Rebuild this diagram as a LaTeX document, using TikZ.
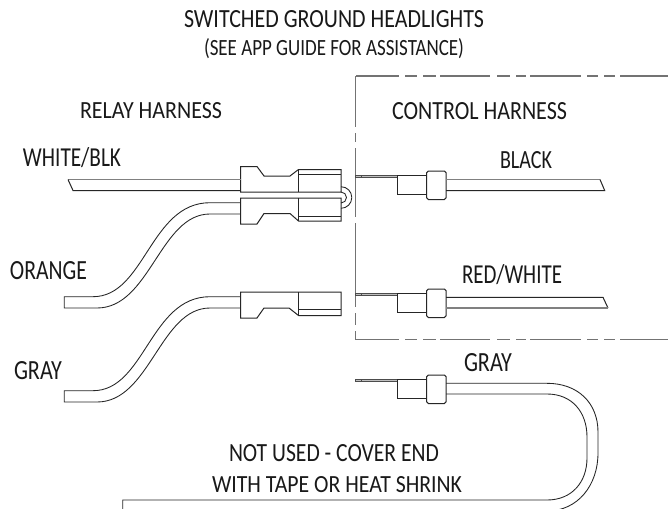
\documentclass[tikz,border=0pt]{standalone}
\usepackage{fontspec}
\usepackage{graphicx}
\setmainfont{Carlito}
\newdimen\lblw
\newdimen\lblh
\newcommand{\lbl}[6]{\lblw=0.75pt \multiply\lblw by #4 \lblh=0.75pt \multiply\lblh by #5 \node[lab,anchor=base west] (#1) at (#2,#3) {\resizebox{\lblw}{\lblh}{#6}};}
\tikzset{
  lab/.style={inner sep=0pt,outer sep=0pt,text=black!90,font=\fontsize{18}{20}\selectfont},
  ln/.style={line width=0.75pt,black!85,line join=miter},
  gr/.style={line width=1.1pt,black!50},
  thin wire/.style={line width=0.65pt,black!85},
  bord/.style={line width=0.9pt,black!55},
}
\begin{document}
\begin{tikzpicture}[x=0.75pt,y=-0.75pt]
\useasboundingbox (0,0) rectangle (668,508);
\fill[white] (0,0) rectangle (668,508);
% labels
\lbl{t1}{184}{27}{300}{17}{SWITCHED GROUND HEADLIGHTS}
\lbl{t2}{204}{55}{260}{17}{(SEE APP GUIDE FOR ASSISTANCE)}
\lbl{t3}{80}{118}{142}{16}{RELAY HARNESS}
\lbl{t4}{392}{119}{175}{17}{CONTROL HARNESS}
\lbl{t5}{23}{166}{98}{19}{WHITE/BLK}
\lbl{t6}{10}{279}{77}{18}{ORANGE}
\lbl{t7}{14}{379}{48}{18}{GRAY}
\lbl{t8}{500}{168}{52}{17}{BLACK}
\lbl{t9}{462}{283}{100}{19}{RED/WHITE}
\lbl{t10}{464}{371}{48}{18}{GRAY}
\lbl{t11}{229}{461}{210}{17}{NOT USED - COVER END}
\lbl{t12}{212}{492}{250}{16}{WITH TAPE OR HEAT SHRINK}
% dashed boundary
\draw[bord] (356,76) -- (399,76) (405,76) -- (417,76) (423,76) -- (436,76) (440,76) -- (490,76) (497,76) -- (510,76) (516,76) -- (526,76) (530,76) -- (581,76) (587,76) -- (598,76) (604,76) -- (615,76) (620,76) -- (668,76);
\draw[bord] (356,339.7) -- (399,339.7) (405,339.7) -- (417,339.7) (423,339.7) -- (436,339.7) (440,339.7) -- (490,339.7) (497,339.7) -- (510,339.7) (516,339.7) -- (526,339.7) (530,339.7) -- (581,339.7) (587,339.7) -- (598,339.7) (604,339.7) -- (615,339.7) (620,339.7) -- (668,339.7);
\draw[bord] (355.7,76) -- (355.7,127) (355.7,133) -- (355.7,142) (355.7,148) -- (355.7,217) (355.7,223) -- (355.7,307) (355.7,313) -- (355.7,325) (355.7,331) -- (355.7,340);
% top connector
\draw[ln] (240.5,166.5) -- (257,166.5) -- (264,176) -- (290,176) -- (298.5,169.5) -- (341,169.5) -- (341,192) -- (240.5,192) -- cycle;
\draw[ln] (298.5,169.5) -- (298.5,192) (298.5,174.5) -- (341,174.5);
% second connector
\draw[ln] (240.5,198) -- (341,198) -- (341,221) -- (298.5,221) -- (290,213.5) -- (264,213.5) -- (257,224) -- (240.5,224) -- cycle;
\draw[ln] (298.5,198) -- (298.5,221) (298.5,216) -- (341,216);
% loop
\draw[thin wire] (341,186.7) arc[start angle=-90,end angle=90,radius=10.8];
\draw[thin wire] (341,192) arc[start angle=-90,end angle=90,radius=5.5];
% third connector
\draw[ln] (240.5,292) -- (341,292) -- (341,315.5) -- (298.5,315.5) -- (289,308) -- (264,308) -- (257,318) -- (240.5,318) -- cycle;
\draw[ln] (298.5,292) -- (298.5,315.5) (298.5,309.5) -- (341,309.5);
% white/blk wire
\draw[gr] (68,179.5) -- (240.5,179.5);
\draw[ln] (68,179.5) -- (73,190.5) -- (240.5,190.5);
% orange and gray wires
\foreach \d in {0,94}{
  \draw[thin wire] (240.5,202.7+\d) -- (210,202.7+\d) .. controls (150,202.7+\d) and (145,296.7+\d) .. (93,296.7+\d) -- (64.3,296.7+\d) -- (64.3,308+\d) -- (97,308+\d) .. controls (150,308+\d) and (160,214+\d) .. (210,214+\d) -- (240.5,214+\d);
}
% terminals
\foreach \d in {0,118,204}{
  \draw[line width=0.5pt,black!70,fill=black!25] (355.7,175+\d) rectangle (397,177.5+\d);
  \draw[line width=0.5pt,black!70] (361.7,175+\d) -- (361.7,177.5+\d);
  \draw[ln] (426.7,175+\d) -- (397,175+\d) -- (397,194+\d) -- (426.7,194+\d);
  \draw[ln,rounded corners=1.2pt] (426.7,171+\d) rectangle (446,199.5+\d);
}
% black wire
\draw[gr] (446,179.5) -- (600,179.5);
\draw[ln] (600,179.5) -- (604.7,190.5) -- (446,190.5);
% red/white wire
\draw[ln] (446,297.3) -- (603,297.3) -- (608,308);
\draw[gr] (446,308) -- (608,308);
% gray unused wire
\begin{scope}
\clip (0,0) rectangle (668,508);
\draw[thin wire] (446,383.3) -- (547,383.3) .. controls (578,383.3) and (598,403) .. (598,432) -- (598,453) .. controls (598,485) and (578,511) .. (547,511);
\draw[thin wire] (446,394) -- (547,394) .. controls (572,394) and (587,412) .. (587,437) -- (587,458) .. controls (587,482) and (572,500) .. (547,500) -- (122.7,500) -- (122.7,510);
\end{scope}
\end{tikzpicture}
\end{document}
